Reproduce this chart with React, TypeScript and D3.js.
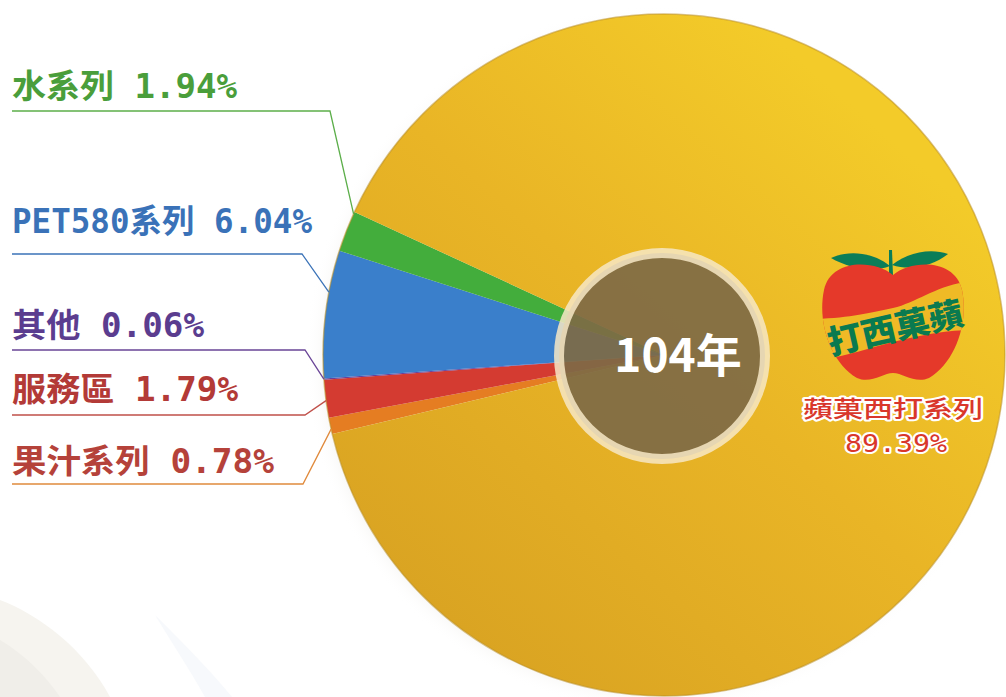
import React from "react";
import * as d3 from "d3";

// ---- data ----
const categories = ["果汁系列", "服務區", "其他", "PET580系列", "水系列", "蘋菓西打系列"];
const values = [0.78, 1.79, 0.06, 6.04, 1.94, 89.39];
const sliceColors = ["#e57d22", "#d43b31", "#6b3f97", "#3a7fcb", "#43ad3c", "url(#pieGrad)"];

// left labels (index into categories)
const leftLabelIdx = [4, 3, 2, 1, 0];
const leftLabelText = ["水系列 1.94%", "PET580系列 6.04%", "其他 0.06%", "服務區 1.79%", "果汁系列 0.78%"];
const leftTextColor = ["#4a9e3b", "#3a72b8", "#5b3d8f", "#b33a37", "#b5423a"];
const leftLineColor = ["#5cae4a", "#3b73b8", "#6a4597", "#c0504a", "#e08a3c"];

const centerLabel = "104年";
const mainLabel = "蘋菓西打系列";
const mainValue = "89.39%";
const logoText = "打西菓蘋";

// ---- layout ----
const W = 1006, H = 697;
const cx = 664, cy = 355, R = 341;
const startDeg = 256.6;
const labelBaseline = [98, 233, 337, 401, 473];
const lineY = [111, 254, 350, 415, 484];
const elbowX = [330, 302, 305, 305, 303];
const anglePos = [0.95, 0.67, 0.5, 0.45, 0.3];
const textLen = [225, 300, 192, 226, 262];

export default function App() {
  const pie = d3
    .pie<number>()
    .sort(null)
    .value((d) => d)
    .startAngle((startDeg * Math.PI) / 180)
    .endAngle((startDeg * Math.PI) / 180 + 2 * Math.PI);
  const arcs = pie(values);
  const arc = d3.arc<d3.PieArcDatum<number>>().innerRadius(0).outerRadius(R);

  const edgePoint = (a: d3.PieArcDatum<number>, t: number) => {
    const ang = a.startAngle + (a.endAngle - a.startAngle) * t;
    return [cx + R * Math.sin(ang), cy - R * Math.cos(ang)];
  };

  return (
    <svg
      width={W}
      height={H}
      style={{ position: "absolute", left: 0, top: 0, background: "#ffffff" }}
    >
      <defs>
        <linearGradient id="pieGrad" x1="0.85" y1="0.2" x2="0.2" y2="0.95">
          <stop offset="0" stopColor="#f3cb29" />
          <stop offset="0.45" stopColor="#e9b526" />
          <stop offset="1" stopColor="#d9a322" />
        </linearGradient>
        <radialGradient id="shadowGrad" cx="0.5" cy="0.5" r="0.5">
          <stop offset="0.92" stopColor="#dcd8d0" stopOpacity="0.35" />
          <stop offset="1" stopColor="#ffffff" stopOpacity="0" />
        </radialGradient>
        <clipPath id="appleClip">
          <path d="M 0,-43 C 18,-58 62,-60 69,-28 C 76,5 62,45 36,60 C 22,66 10,55 0,55 C -10,55 -22,66 -36,60 C -62,45 -76,5 -69,-28 C -62,-60 -18,-58 0,-43 Z" />
        </clipPath>
      </defs>

      {/* faint background decoration */}
      <path d="M0,600 C40,615 85,650 110,697 L0,697 Z" fill="#f6f4ef" />
      <path d="M0,640 C25,655 45,675 60,697 L0,697 Z" fill="#f0eee9" />
      <path d="M155,615 C180,640 210,670 232,697 L205,697 C190,670 170,640 155,615 Z" fill="#f7f9fc" />
      <circle cx={cx - 6} cy={cy + 4} r={R + 12} fill="url(#shadowGrad)" />

      {/* pie */}
      <g transform={`translate(${cx},${cy})`}>
        {arcs.map((a, i) => (
          <path key={categories[i]} d={arc(a) || ""} fill={sliceColors[i]} />
        ))}
        <circle r={R} fill="none" stroke="#b98e22" strokeOpacity={0.55} strokeWidth={1.5} />
      </g>

      {/* center badge */}
      <circle cx={662} cy={356} r={103} fill="#7e6a45" fillOpacity={0.92} stroke="#f7e8c6" strokeOpacity={0.85} strokeWidth={10} />
      <text
        x={678}
        y={372}
        textAnchor="middle"
        fill="#ffffff"
        fontFamily="'Noto Sans CJK TC', 'Noto Sans', sans-serif"
        fontWeight={700}
        fontSize={46}
      >
        {centerLabel}
      </text>

      {/* left labels & leaders */}
      {leftLabelIdx.map((si, k) => {
        const [ex, ey] = edgePoint(arcs[si], anglePos[k]);
        return (
          <g key={leftLabelText[k]}>
            <polyline
              points={`12,${lineY[k]} ${elbowX[k]},${lineY[k]} ${ex},${ey}`}
              fill="none"
              stroke={leftLineColor[k]}
              strokeWidth={1.3}
            />
            <text
              x={12}
              y={labelBaseline[k]}
              fill={leftTextColor[k]}
              fontFamily="'DejaVu Sans Mono', 'Noto Sans CJK TC', monospace"
              fontWeight={700}
              fontSize={33}
              textLength={textLen[k]}
              lengthAdjust="spacingAndGlyphs"
            >
              {leftLabelText[k]}
            </text>
          </g>
        );
      })}

      {/* apple logo */}
      <g transform="translate(893,318)">
        <path d="M -3,-52 C -20,-66 -45,-68 -62,-60 C -45,-50 -20,-45 -3,-52 Z" fill="#0b7d58" />
        <path d="M -1,-53 C 15,-66 38,-70 55,-64 C 40,-52 18,-47 -1,-53 Z" fill="#0b7d58" />
        <path d="M -4,-68 L -1,-68 L 0,-43 L -4,-43 Z" fill="#0b7d58" />
        <g clipPath="url(#appleClip)">
          <rect x={-80} y={-70} width={160} height={140} fill="#e5392a" />
          <path
            d="M -80,1 C -40,0 -20,-6 0,-10 C 25,-16 45,-34 80,-37 L 80,12 C 50,12 25,18 0,24 C -25,30 -50,40 -80,42 Z"
            fill="#efba26"
          />
        </g>
        <text
          x={0}
          y={22}
          textAnchor="middle"
          fill="#0a7a50"
          fontFamily="'Noto Sans CJK TC', sans-serif"
          fontWeight={900}
          fontSize={33}
          textLength={138}
          lengthAdjust="spacingAndGlyphs"
          transform="rotate(-13)"
        >
          {logoText}
        </text>
      </g>

      {/* main slice label */}
      <text
        x={893}
        y={417}
        textAnchor="middle"
        fill="#d9372b"
        stroke="#ffffff"
        strokeWidth={4}
        paintOrder="stroke"
        strokeLinejoin="round"
        fontFamily="'Noto Sans CJK TC', sans-serif"
        fontWeight={500}
        fontSize={23}
        textLength={180}
        lengthAdjust="spacingAndGlyphs"
      >
        {mainLabel}
      </text>
      <text
        x={896}
        y={452}
        textAnchor="middle"
        fill="#d9372b"
        stroke="#ffffff"
        strokeWidth={4}
        paintOrder="stroke"
        strokeLinejoin="round"
        fontFamily="'DejaVu Sans Mono', monospace"
        fontWeight={400}
        fontSize={25}
        textLength={102}
        lengthAdjust="spacingAndGlyphs"
      >
        {mainValue}
      </text>
    </svg>
  );
}
